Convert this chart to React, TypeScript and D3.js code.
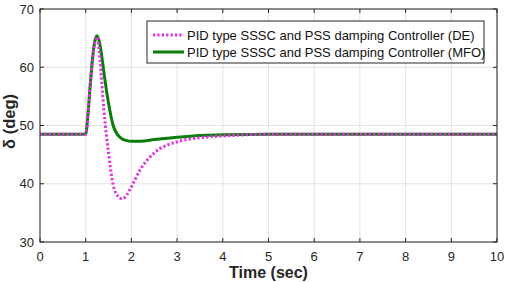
import React from "react";
import * as d3 from "d3";

const timeSec = [0, 1.0, 1.05, 1.1, 1.15, 1.2, 1.25, 1.3, 1.35, 1.4, 1.5, 1.6, 1.7, 1.8, 1.9, 2.0, 2.2, 2.5, 3.0, 3.5, 4.0, 5.0, 6.0, 10.0];
const deltaDE = [48.5, 48.5, 52, 57, 61.5, 64.3, 65.2, 62.5, 57.5, 52.5, 45.3, 39.8, 37.9, 37.4, 38.1, 39.5, 42.5, 45.3, 47.2, 47.9, 48.2, 48.5, 48.5, 48.5];
const deltaMFO = [48.5, 48.5, 52, 57, 61.5, 64.5, 65.4, 64.3, 62, 59, 53.8, 50, 48.4, 47.7, 47.4, 47.3, 47.3, 47.6, 48.0, 48.3, 48.4, 48.5, 48.5, 48.5];
const xTicks = [0, 1, 2, 3, 4, 5, 6, 7, 8, 9, 10];
const yTicks = [30, 40, 50, 60, 70];
const legendLabels = [
  "PID type SSSC and PSS damping Controller (DE)",
  "PID type SSSC and PSS damping Controller (MFO)",
];

const W = 506;
const H = 282;
const margin = { left: 40, right: 9, top: 9, bottom: 40 };

export default function App() {
  const x = d3.scaleLinear().domain([0, 10]).range([margin.left, W - margin.right]);
  const y = d3.scaleLinear().domain([30, 70]).range([H - margin.bottom, margin.top]);

  const line = (vals: number[]) =>
    d3
      .line<number>()
      .x((_, i) => x(timeSec[i]))
      .y((d) => y(d))
      .curve(d3.curveMonotoneX)(vals) || "";

  const font = "'Liberation Sans', Arial, sans-serif";
  const x0 = x(0), x1 = x(10), y0 = y(30), y1 = y(70);

  return (
    <div style={{ position: "absolute", left: 0, top: 0 }}>
      <svg width={W} height={H} style={{ display: "block", background: "#fff" }} fontFamily={font}>
        <rect x={x0} y={y1} width={x1 - x0} height={y0 - y1} fill="#fff" />
        {/* grid */}
        {xTicks.map((t) => (
          <line key={"gx" + t} x1={x(t)} x2={x(t)} y1={y1} y2={y0} stroke="#e3e3e3" strokeWidth={1} />
        ))}
        {yTicks.map((t) => (
          <line key={"gy" + t} x1={x0} x2={x1} y1={y(t)} y2={y(t)} stroke="#e3e3e3" strokeWidth={1} />
        ))}
        <defs>
          <clipPath id="plotClip">
            <rect x={x0} y={y1} width={x1 - x0} height={y0 - y1} />
          </clipPath>
        </defs>
        <g clipPath="url(#plotClip)">
          <path d={line(deltaMFO)} fill="none" stroke="#0a7d0a" strokeWidth={3} />
          <path d={line(deltaDE)} fill="none" stroke="#e52ee5" strokeWidth={3} strokeDasharray="2.2,2.2" />
        </g>
        {/* box */}
        <rect x={x0} y={y1} width={x1 - x0} height={y0 - y1} fill="none" stroke="#262626" strokeWidth={1} />
        {xTicks.map((t) => (
          <g key={"tx" + t}>
            <line x1={x(t)} x2={x(t)} y1={y0} y2={y0 - 4} stroke="#262626" />
            <line x1={x(t)} x2={x(t)} y1={y1} y2={y1 + 4} stroke="#262626" />
            <text x={x(t)} y={y0 + 18.5} textAnchor="middle" fontSize={13} fill="#262626">{t}</text>
          </g>
        ))}
        {yTicks.map((t) => (
          <g key={"ty" + t}>
            <line x1={x0} x2={x0 + 4} y1={y(t)} y2={y(t)} stroke="#262626" />
            <line x1={x1} x2={x1 - 4} y1={y(t)} y2={y(t)} stroke="#262626" />
            <text x={x0 - 6} y={y(t) + 4.5} textAnchor="end" fontSize={13} fill="#262626">{t}</text>
          </g>
        ))}
        <text x={(x0 + x1) / 2} y={H - 4} textAnchor="middle" fontSize={16} fontWeight="bold" fill="#262626">Time (sec)</text>
        <text transform={`translate(15,${(y0 + y1) / 2 - 4}) rotate(-90)`} textAnchor="middle" fontSize={16.5} fontWeight="bold" fill="#262626">δ (deg)</text>
        {/* legend */}
        <g>
          <rect x={147} y={21} width={337} height={42} fill="#fff" stroke="#262626" strokeWidth={1} />
          <line x1={153} x2={184} y1={35} y2={35} stroke="#e52ee5" strokeWidth={3} strokeDasharray="2.2,2.2" />
          <line x1={153} x2={184} y1={52} y2={52} stroke="#0a7d0a" strokeWidth={3} />
          <text x={187} y={39.5} fontSize={13} fill="#111">{legendLabels[0]}</text>
          <text x={187} y={56.5} fontSize={13} fill="#111">{legendLabels[1]}</text>
        </g>
      </svg>
    </div>
  );
}
